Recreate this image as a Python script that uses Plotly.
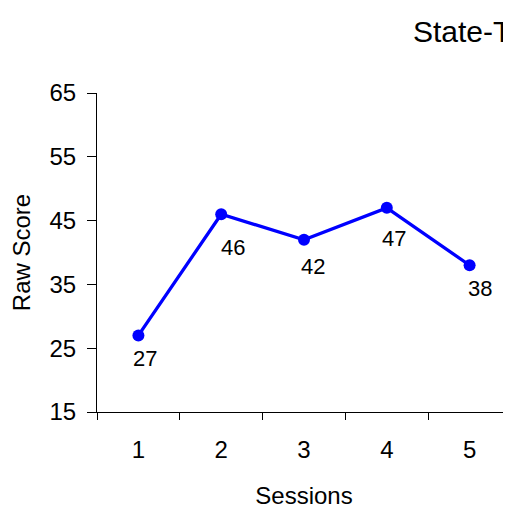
import plotly.graph_objects as go

sessions = ["1", "2", "3", "4", "5"]
raw_scores = [27, 46, 42, 47, 38]
label_texts = ["27", "46", "42", "47", "38"]
y_ticks = [15, 25, 35, 45, 55, 65]

# label offsets in pixels (style, not data)
label_dx = [7, 12, 9, 7, 10]
label_dy = [23, 33, 27, 31, 23]

FONT = "Liberation Sans, Arial, sans-serif"

fig = go.Figure()
fig.add_trace(go.Scatter(
    x=sessions, y=raw_scores, mode="lines+markers",
    line=dict(color="#0000FF", width=3.3),
    marker=dict(color="#0000FF", size=12),
    showlegend=False, hoverinfo="skip",
))

for i, (v, t, dx, dy) in enumerate(zip(raw_scores, label_texts, label_dx, label_dy)):
    fig.add_annotation(x=i, y=v, text=t, showarrow=False,
                       xshift=dx, yshift=-dy, xanchor="center", yanchor="middle",
                       font=dict(family=FONT, size=22, color="black"))

W, H = 503, 501
fig.update_layout(
    width=W, height=H,
    margin=dict(l=89, r=0, t=85, b=97, pad=0),
    paper_bgcolor="white", plot_bgcolor="white",
    font=dict(family=FONT, color="black"),
    title=dict(text="State-Trait Anxiety", x=405 / W, xanchor="left",
               xref="container", y=1 - 23 / H, yanchor="middle", yref="container",
               font=dict(family=FONT, size=30, color="black")),
)
fig.update_xaxes(
    type="category", range=[-0.5, 4.5], tickson="boundaries",
    ticks="outside", ticklen=7, tickcolor="black", tickwidth=1,
    showline=True, linecolor="black", linewidth=1,
    showgrid=False, zeroline=False,
    tickfont=dict(family=FONT, size=24, color="black"),
    ticklabelstandoff=16,
    title=dict(text="Sessions", font=dict(family=FONT, size=24, color="black"), standoff=25),
)
fig.update_yaxes(
    range=[15, 65], tickmode="array", tickvals=y_ticks,
    ticks="outside", ticklen=9, tickcolor="black", tickwidth=1,
    showline=True, linecolor="black", linewidth=1,
    showgrid=False, zeroline=False,
    tickfont=dict(family=FONT, size=24, color="black"),
    ticklabelstandoff=6,
    title=dict(text="Raw Score", font=dict(family=FONT, size=24, color="black"), standoff=15),
)

fig.write_html("out.html")
